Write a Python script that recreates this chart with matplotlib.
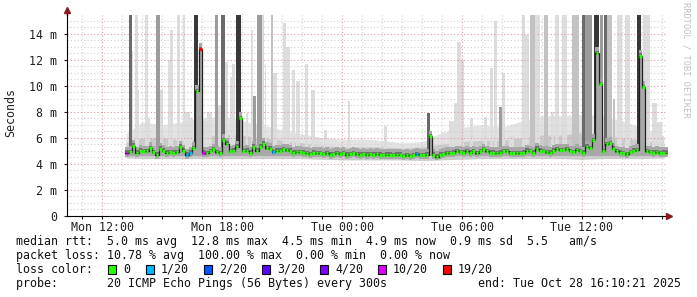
import numpy as np
import matplotlib
matplotlib.use("Agg")
import matplotlib.pyplot as plt
from matplotlib.patches import Rectangle

# hours counted from Mon 00:00
x_min, x_max = 10.235, 40.235
y_max = 15.44

# median rtt in ms, one value every 10 minutes from Mon 13:10
med_start = 13 + 10 / 60
median_ms = [
    4.85, 4.9, 5.4, 4.85, 5.0, 4.95, 4.95, 5.2, 4.9, 4.7,
    5.15, 5.0, 4.85, 4.9, 4.85, 4.9, 5.3, 5.0, 4.7, 4.85,
    5.2, 9.6, 12.8, 4.85, 4.8, 4.95, 5.1, 4.9, 4.8, 5.8,
    5.55, 4.95, 5.0, 5.3, 7.5, 4.95, 5.0, 4.85, 5.3, 5.0,
    5.3, 5.55, 5.2, 5.15, 4.9, 5.0, 5.0, 5.1, 5.05, 5.0,
    4.85, 4.9, 4.9, 4.85, 4.8, 4.75, 4.85, 4.8, 4.8, 4.75,
    4.8, 4.7, 4.75, 4.8, 4.75, 4.8, 4.7, 4.75, 4.8, 4.75,
    4.7, 4.75, 4.7, 4.75, 4.7, 4.75, 4.7, 4.65, 4.7, 4.7,
    4.65, 4.7, 4.7, 4.6, 4.65, 4.6, 4.65, 4.75, 4.65, 4.65,
    4.7, 6.1, 4.7, 4.55, 4.7, 4.75, 4.8, 4.8, 4.85, 4.95,
    4.9, 4.85, 4.95, 4.85, 4.95, 4.8, 4.95, 5.1, 4.95, 4.85,
    4.85, 4.8, 4.85, 4.95, 4.95, 4.8, 4.8, 4.8, 4.8, 4.85,
    5.0, 4.95, 4.85, 5.15, 5.0, 4.95, 4.9, 4.85, 5.0, 5.1,
    5.05, 5.05, 5.1, 4.95, 4.9, 5.05, 4.95, 4.85, 5.3, 5.2,
    5.8, 12.5, 10.1, 4.95, 5.5, 5.6, 5.15, 4.95, 4.85, 4.8,
    4.75, 4.9, 5.0, 5.05, 12.3, 9.9, 4.95, 4.9, 4.85, 4.9,
    4.8, 4.85, 4.85,
]
# steps with packet loss (index into median_ms, lost pings of 20)
loss_idx = [0, 18, 19, 22, 23, 44, 87]
loss_cnt = [10, 1, 1, 19, 10, 1, 1]

# background smoke envelope (ms)
band_hours = [13.2, 14, 15, 16, 17, 18, 19, 20, 21, 22, 23, 24, 25, 26, 27,
              28, 29, 30, 31, 32, 33, 34, 35, 36, 37, 38, 39, 40, 40.1]
band_lo = [4.45, 4.4, 4.4, 4.4, 4.4, 4.4, 4.4, 4.4, 4.4, 4.4, 4.35, 4.3, 4.3, 4.3, 4.3,
           4.25, 4.3, 4.35, 4.4, 4.4, 4.4, 4.4, 4.4, 4.35, 4.4, 4.4, 4.4, 4.45, 4.45]
band_mid = [5.6, 6.0, 6.0, 5.8, 6.0, 6.3, 6.2, 6.0, 5.8, 5.6, 5.4, 5.3, 5.3, 5.3, 5.2,
            5.3, 5.5, 5.7, 5.8, 5.8, 6.0, 6.2, 6.2, 6.4, 6.2, 6.0, 5.8, 5.6, 5.5]
band_hi = [6.3, 7.2, 7.0, 7.2, 7.5, 7.7, 7.3, 7.0, 6.6, 6.3, 6.0, 5.9, 5.9, 5.8, 5.6,
           5.7, 6.4, 6.8, 7.0, 6.8, 7.3, 7.7, 7.7, 7.8, 7.7, 7.3, 6.8, 6.1, 5.9]

# smoke columns: start hour, width (h), top (ms, 16 = off the chart), shade 0..4
spike_start = [13.35, 13.475, 13.65, 13.775, 14.15, 14.285, 14.7, 14.9, 15.3, 15.4,
               15.75, 16.035, 16.165, 16.4, 16.6, 16.8, 16.9, 17.25, 17.65, 17.775,
               17.925, 18.15, 18.375, 18.5, 18.7, 19.2, 19.425, 19.55, 19.75, 20.0,
               20.125, 20.435, 20.55, 21.05, 21.2, 21.5, 21.7, 22.15, 22.45, 22.7,
               23.115, 24.285, 26.115, 28.265, 29.35, 29.6, 29.75, 29.935, 30.4, 31.1,
               31.4, 31.6, 31.85, 32.0, 32.35, 33.0, 33.165, 33.4, 33.65, 34.085,
               34.45, 34.65, 35.0, 35.5, 36.0, 36.165, 36.585, 36.9, 37.085, 37.225,
               37.55, 37.75, 38.15, 38.735, 39.05, 39.25, 39.485, 39.735, 39.985]
spike_width = [0.125, 0.075, 0.125, 0.09, 0.135, 0.115, 0.175, 0.125, 0.1, 0.125,
               0.15, 0.13, 0.235, 0.15, 0.2, 0.1, 0.35, 0.25, 0.125, 0.15,
               0.225, 0.15, 0.1, 0.125, 0.235, 0.1, 0.125, 0.15, 0.25, 0.1,
               0.075, 0.115, 0.2, 0.15, 0.175, 0.125, 0.2, 0.15, 0.2, 0.25,
               0.12, 0.115, 0.12, 0.135, 0.25, 0.15, 0.185, 0.165, 0.165, 0.165,
               0.15, 0.15, 0.15, 0.15, 0.25, 0.165, 0.17, 0.25, 0.25, 0.215,
               0.125, 0.185, 0.25, 0.335, 0.165, 0.335, 0.28, 0.15, 0.14, 0.275,
               0.1, 0.25, 0.25, 0.2, 0.2, 0.15, 0.25, 0.25, 0.115]
spike_top = [16, 12.7, 16, 9.7, 16, 7.5, 16, 9.7, 12.0, 14.3,
             16, 16, 8.0, 7.5, 16, 6.5, 7.3, 8.0, 16, 8.5,
             16, 11.8, 10.7, 11.7, 16, 7.9, 14.3, 9.2, 16, 16,
             11.7, 16, 11.0, 14.8, 13.0, 11.2, 10.4, 11.7, 9.7, 6.0,
             6.6, 8.85, 6.9, 7.9, 7.3, 8.7, 13.4, 12.0, 7.5, 7.6,
             11.4, 15.0, 8.4, 11.0, 6.1, 16, 13.9, 16, 16, 16,
             8.0, 16, 16, 16, 16, 16, 16, 16, 16, 16,
             9.0, 16, 16, 16, 16, 16, 8.7, 7.2, 6.1]
spike_shade = [3, 0, 0, 0, 0, 0, 2, 0, 0, 0,
               0, 0, 0, 0, 4, 1, 0, 0, 2, 0,
               3, 0, 0, 0, 4, 0, 0, 2, 2, 0,
               0, 1, 0, 0, 0, 0, 0, 0, 0, 0,
               0, 0, 0, 3, 0, 0, 0, 0, 0, 0,
               0, 0, 2, 0, 0, 0, 0, 1, 0, 1,
               0, 0, 0, 1, 3, 2, 4, 2, 3, 1,
               1, 0, 0, 4, 0, 0, 0, 0, 0]

loss_levels = ["0", "1/20", "2/20", "3/20", "4/20", "10/20", "19/20"]
loss_values = [0, 1, 2, 3, 4, 10, 19]
loss_colors = ["#26ff00", "#00b8ff", "#0059ff", "#5e00ff", "#7e00ff", "#dd00ff", "#ff0000"]
shade_colors = ["#dddddd", "#c2c2c2", "#9c9c9c", "#6a6a6a", "#383838"]

W, H = 697, 297
mono = "DejaVu Sans Mono"
fs = 8.4

fig = plt.figure(figsize=(W / 100, H / 100), dpi=100)
fig.patch.set_facecolor("white")
ax = fig.add_axes([66.7 / W, 1 - 215.7 / H, 600 / W, 200.7 / H])
ax.set_xlim(x_min, x_max)
ax.set_ylim(0, y_max)

# background smoke
ax.fill_between(band_hours, band_lo, band_hi, color="#e3e3e3", lw=0, zorder=1)
ax.fill_between(band_hours, band_lo, band_mid, color="#cacaca", lw=0, zorder=1.2)

# smoke columns, lighter ones first
order = np.argsort(spike_shade, kind="stable")
for k in order:
    ax.bar(spike_start[k], spike_top[k] - 5.0, width=spike_width[k], bottom=5.0,
           align="edge", color=shade_colors[spike_shade[k]], lw=0,
           zorder=2 + 0.1 * spike_shade[k] + (0.2 if spike_shade[k] > 0 else 0))

# dark core around the median
t = med_start + np.arange(len(median_ms)) / 6
med = np.array(median_ms)
t_edges = np.append(t, t[-1] + 1 / 6)
m_ext = np.append(med, med[-1])
ax.fill_between(t_edges, np.minimum(m_ext - 0.3, 4.6), m_ext + 0.45, step="post",
                color="#a8a8a8", lw=0, zorder=3)
ax.fill_between(t_edges, m_ext - 0.12, m_ext + 0.18, step="post",
                color="#707070", lw=0, zorder=3.1)

# grid (above the light smoke, below the dark columns)
for hh in np.arange(11, 41):
    major = hh % 6 == 0
    ax.axvline(hh, color="#e29a9a" if major else "#cfcfcf", lw=0.8,
               ls=(0, (1, 2)), zorder=2.1)
for yy in np.arange(0.5, y_max, 0.5):
    major = abs(yy % 2) < 1e-9
    ax.axhline(yy, color="#e29a9a" if major else "#cfcfcf", lw=0.8,
               ls=(0, (1, 2)), zorder=2.1)

# median line coloured by loss
ax.step(t_edges, m_ext, where="post", color="#202020", lw=0.9, zorder=5)
loss_of = dict(zip(loss_idx, loss_cnt))
for i, v in enumerate(median_ms):
    c = loss_colors[loss_values.index(loss_of.get(i, 0))]
    ax.hlines(v, t[i] + 0.02, t[i] + 1 / 6 - 0.02, color=c, lw=2.4, zorder=6)

# axes, ticks, labels
for s in ["top", "right"]:
    ax.spines[s].set_visible(False)
ax.spines["left"].set_color("black")
ax.spines["bottom"].set_color("black")
ax.spines["left"].set_zorder(7)
ax.spines["bottom"].set_zorder(7)
ax.set_facecolor("white")
ax.plot([x_min, x_min], [y_max, 15.75], color="black", lw=1, clip_on=False, zorder=7)
ax.plot([x_max, 40.3], [0, 0], color="black", lw=1, clip_on=False, zorder=7)
ax.plot([x_min], [15.85], marker="^", color="#8b1a1a", ms=4, clip_on=False, zorder=8)
ax.plot([40.33], [0], marker=">", color="#8b1a1a", ms=4, clip_on=False, zorder=8)

ax.set_xticks([12, 18, 24, 30, 36])
ax.set_xticklabels(["Mon 12:00", "Mon 18:00", "Tue 00:00", "Tue 06:00", "Tue 12:00"])
ax.set_xticks(np.arange(11, 41), minor=True)
ax.set_yticks(np.arange(0, 15, 2))
ax.set_yticklabels(["0"] + [f"{v} m" for v in range(2, 15, 2)])
ax.tick_params(axis="both", which="both", labelsize=fs, colors="#222222", length=2, width=0.8)
ax.tick_params(axis="y", pad=5)
ax.tick_params(axis="x", pad=1.5)
for lab in ax.get_xticklabels() + ax.get_yticklabels():
    lab.set_family(mono)

fig.text(11 / W, 1 - 113 / H, "Seconds", rotation=90, ha="center", va="center",
         family=mono, fontsize=fs, color="#222222")
fig.text(686 / W, 1 - 60 / H, "RRDTOOL / TOBI OETIKER", rotation=270, ha="center",
         va="center", family=mono, fontsize=6.2, color="#c0c0c0")

# legend block
rows = [
    "median rtt:  5.0 ms avg  12.8 ms max  4.5 ms min  4.9 ms now  0.9 ms sd  5.5   am/s",
    "packet loss: 10.78 % avg  100.00 % max  0.00 % min  0.00 % now",
    "loss color:",
    "probe:       20 ICMP Echo Pings (56 Bytes) every 300s",
]
row_y = [241.3, 255.3, 269.3, 283.6]
for txt, yy in zip(rows, row_y):
    fig.text(16 / W, 1 - yy / H, txt, ha="left", va="center", family=mono,
             fontsize=fs, color="#111111")
fig.text(681 / W, 1 - 283.6 / H, "end: Tue Oct 28 16:10:21 2025", ha="right",
         va="center", family=mono, fontsize=fs, color="#111111")

box_x = [108.3, 146, 204, 262.3, 320, 378, 443]
for bx, lab, col in zip(box_x, loss_levels, loss_colors):
    fig.patches.append(Rectangle((bx / W, 1 - 273.5 / H), 7.5 / W, 9 / H,
                                 transform=fig.transFigure, facecolor=col,
                                 edgecolor="black", lw=0.8))
    fig.text((bx + 15) / W, 1 - 269.3 / H, lab, ha="left", va="center",
             family=mono, fontsize=fs, color="#111111")

fig.savefig("out.png", dpi=100)
